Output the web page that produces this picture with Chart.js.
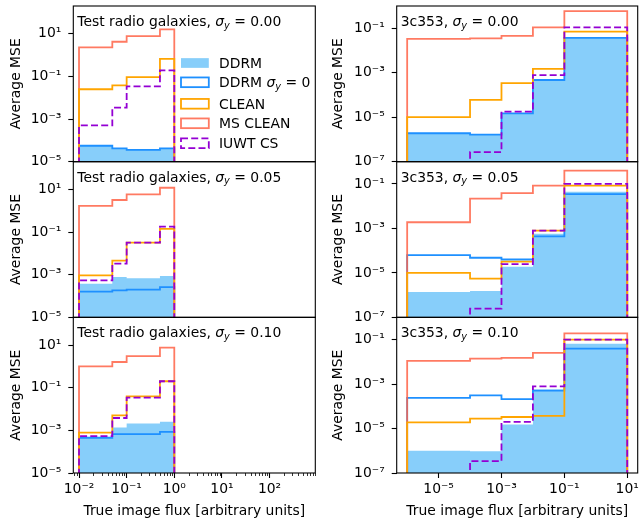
<!DOCTYPE html>
<html><head><meta charset="utf-8">
<script src="https://cdn.jsdelivr.net/npm/chart.js@4.4.1/dist/chart.umd.min.js"></script>
<style>
html,body{margin:0;padding:0;background:#fff;}
#wrap{position:relative;width:640px;height:520px;overflow:hidden;background:#fff;}
#wrap canvas{position:absolute;}
</style></head><body><div id="wrap"></div>
<script>
// ---------------- data ----------------
const galaxyEdges = [0.01, 0.05, 0.1, 0.5, 1];
const sourceEdges = [1e-6, 1e-4, 1e-3, 1e-2, 1e-1, 10];
const noiseLevels = ['0.00', '0.05', '0.10'];
const panelNames = ['Test radio galaxies', '3c353'];
const seriesNames = ['DDRM', 'DDRM σy = 0', 'CLEAN', 'MS CLEAN', 'IUWT CS'];

// tick values
const galaxyXTicks = [1e-2, 1e-1, 1, 10, 100];
const sourceXTicks = [1e-5, 1e-3, 1e-1, 10];
const galaxyYTicks = [1e-5, 1e-3, 1e-1, 10];
const sourceYTicks = [1e-7, 1e-5, 1e-3, 1e-1];

// Test radio galaxies (rows: sigma_y = 0.00, 0.05, 0.10)
const galDDRM = [
  [5.6e-5, 4.2e-5, 3.6e-5, 4.2e-5],
  [3.8e-4, 7.9e-4, 6.8e-4, 8.7e-4],
  [4.6e-4, 1.35e-3, 2.1e-3, 2.5e-3]
];
const galDDRM0 = [
  [5.6e-5, 4.2e-5, 3.6e-5, 4.2e-5],
  [1.6e-4, 1.85e-4, 2.0e-4, 2.6e-4],
  [4.5e-4, 6.7e-4, 6.7e-4, 8.5e-4]
];
const galCLEAN = [
  [0.025, 0.038, 0.093, 0.66],
  [9.3e-4, 4.6e-3, 0.032, 0.14],
  [7.8e-4, 5.0e-3, 0.039, 0.20]
];
const galMSCLEAN = [
  [2.3, 4.2, 7.8, 16],
  [1.7, 3.2, 5.8, 12],
  [1.0, 1.6, 3.0, 7.5]
];
const galIUWT = [
  [5.0e-4, 3.4e-3, 0.034, 0.19],
  [5.4e-4, 3.3e-3, 0.032, 0.18],
  [5.4e-4, 3.8e-3, 0.034, 0.20]
];

// 3c353 (rows: sigma_y = 0.00, 0.05, 0.10)
const srcDDRM = [
  [1.9e-6, 1.65e-6, 1.5e-5, 4.7e-4, 0.037],
  [1.4e-6, 1.55e-6, 1.9e-5, 5.8e-4, 0.044],
  [1.0e-6, 9.5e-7, 1.5e-5, 5.7e-4, 0.064]
];
const srcDDRM0 = [
  [1.9e-6, 1.65e-6, 1.5e-5, 4.7e-4, 0.037],
  [6.3e-5, 4.8e-5, 4.0e-5, 4.4e-4, 0.035],
  [2.4e-4, 3.1e-4, 2.1e-4, 5.0e-4, 0.039]
];
const srcCLEAN = [
  [1.0e-5, 6.0e-5, 3.4e-4, 1.5e-3, 0.071],
  [1.0e-5, 5.5e-6, 3.2e-5, 7.9e-4, 0.084],
  [1.9e-5, 2.8e-5, 3.3e-5, 3.7e-5, 0.10]
];
const srcMSCLEAN = [
  [0.033, 0.035, 0.045, 0.11, 0.59],
  [1.9e-3, 0.022, 0.039, 0.084, 0.40],
  [0.011, 0.014, 0.015, 0.025, 0.19]
];
const srcIUWT = [
  [1e-9, 2.7e-7, 1.8e-5, 7.8e-4, 0.11],
  [1e-9, 2.5e-7, 2.5e-5, 7.9e-4, 0.10],
  [1e-9, 3.4e-7, 2.0e-5, 7.8e-4, 0.10]
];

// ---------------- styling / layout ----------------
const FONT = 'DejaVu Sans';
const FS = 13.9;
const COLORS = { ddrm: '#87CEFA', ddrm0: '#1E90FF', clean: '#FFA500', ms: 'rgba(255,99,71,0.85)', iuwt: '#9400D3' };
const LW = 1.8;
const DASH = [7, 3.2];

Chart.defaults.font.family = FONT;
Chart.defaults.font.size = FS;
Chart.defaults.color = '#000';

const rowTops = [6, 161.7, 317.3];
const rowH = 155.7;
const canvasTops = [0, 155, 311];
const canvasHeights = [168, 169, 209];
const cols = [
  { left: 0, width: 320, plotL: 73.3, plotR: 315.3, yTitleOff: 7.6,
    xMin: Math.pow(10, -2.12), xMax: Math.pow(10, 2.96), yMin: 1e-5, yMax: Math.pow(10, 2.3) },
  { left: 320, width: 320, plotL: 76.7, plotR: 317.7, yTitleOff: 10.2,
    xMin: Math.pow(10, -6.333), xMax: Math.pow(10, 1.333), yMin: 1e-7, yMax: 1 }
];

const SUP = { '-': '⁻', '0': '⁰', '1': '¹', '2': '²', '3': '³', '4': '⁴', '5': '⁵', '6': '⁶', '7': '⁷', '8': '⁸', '9': '⁹' };
function powLabel(v) {
  const e = Math.round(Math.log10(v));
  return '10' + String(e).split('').map(ch => SUP[ch]).join('');
}

function histData(edges, vals, base) {
  const pts = [{ x: edges[0], y: base }];
  vals.forEach((v, i) => pts.push({ x: edges[i], y: v }));
  pts.push({ x: edges[edges.length - 1], y: vals[vals.length - 1] });
  pts.push({ x: edges[edges.length - 1], y: base });
  return pts;
}

function drawMath(ctx, parts, x, y, size) {
  ctx.textBaseline = 'alphabetic';
  ctx.textAlign = 'left';
  ctx.fillStyle = '#000';
  for (const p of parts) {
    const s = p.sub ? size * 0.7 : size;
    ctx.font = (p.italic ? 'italic ' : '') + s + 'px "' + FONT + '"';
    const yy = p.sub ? y + size * 0.2 : y;
    ctx.fillText(p.t, x, yy);
    x += ctx.measureText(p.t).width;
  }
}
function sigmaParts(prefix, value) {
  return [{ t: prefix }, { t: 'σ', italic: true }, { t: 'y', italic: true, sub: true }, { t: ' = ' + value }];
}

const legendItems = [
  { cy: 63, kind: 'fill', colour: COLORS.ddrm, parts: [{ t: 'DDRM' }] },
  { cy: 82.3, kind: 'box', colour: COLORS.ddrm0, parts: [{ t: 'DDRM ' }, { t: 'σ', italic: true }, { t: 'y', italic: true, sub: true }, { t: ' = 0' }] },
  { cy: 103.8, kind: 'box', colour: COLORS.clean, parts: [{ t: 'CLEAN' }] },
  { cy: 123.3, kind: 'box', colour: COLORS.ms, parts: [{ t: 'MS CLEAN' }] },
  { cy: 143.3, kind: 'dash', colour: COLORS.iuwt, parts: [{ t: 'IUWT CS' }] }
];

const decorPlugin = {
  id: 'decor',
  afterDraw(chart) {
    const info = chart.canvas._decor;
    const { ctx, chartArea: a } = chart;
    ctx.save();
    if (info.minorX) {
      const xs = chart.scales.x;
      ctx.strokeStyle = '#000';
      ctx.lineWidth = 0.8;
      for (let d = -4; d <= 3; d++) {
        for (let k = 2; k <= 9; k++) {
          const v = k * Math.pow(10, d);
          if (v < xs.min || v > xs.max) continue;
          const px = Math.round(xs.getPixelForValue(v)) + 0.5;
          ctx.beginPath();
          ctx.moveTo(px, a.bottom);
          ctx.lineTo(px, a.bottom + 3);
          ctx.stroke();
        }
      }
    }
    ctx.strokeStyle = '#000';
    ctx.lineWidth = 1.1;
    ctx.strokeRect(a.left, a.top, a.right - a.left, a.bottom - a.top);
    drawMath(ctx, info.label, a.left + 4, a.top + 20, FS);
    if (info.legend) {
      const lx = 181, hw = 27.8, hh = 9.7;
      for (const it of legendItems) {
        const cy = it.cy;
        if (it.kind === 'fill') {
          ctx.fillStyle = it.colour;
          ctx.fillRect(lx, cy - hh / 2, hw, hh);
        } else {
          ctx.setLineDash(it.kind === 'dash' ? DASH : []);
          ctx.strokeStyle = it.colour;
          ctx.lineWidth = LW;
          ctx.strokeRect(lx, cy - hh / 2, hw, hh);
          ctx.setLineDash([]);
        }
        drawMath(ctx, it.parts, lx + hw + 10.2, cy + 5, FS);
      }
    }
    ctx.restore();
  }
};

const wrap = document.getElementById('wrap');

function makePanel(r, c) {
  const col = cols[c];
  const isGal = c === 0;
  const edges = isGal ? galaxyEdges : sourceEdges;
  const base = col.yMin / 1000;
  const S = isGal
    ? { ddrm: galDDRM, ddrm0: galDDRM0, clean: galCLEAN, ms: galMSCLEAN, iuwt: galIUWT }
    : { ddrm: srcDDRM, ddrm0: srcDDRM0, clean: srcCLEAN, ms: srcMSCLEAN, iuwt: srcIUWT };
  const xTicks = isGal ? galaxyXTicks : sourceXTicks;
  const yTicks = isGal ? galaxyYTicks : sourceYTicks;
  const bottom = r === 2;

  const cv = document.createElement('canvas');
  const cw = col.width, ch = canvasHeights[r];
  cv.width = cw; cv.height = ch;
  cv.style.left = col.left + 'px';
  cv.style.top = canvasTops[r] + 'px';
  cv.style.width = cw + 'px'; cv.style.height = ch + 'px';
  cv._decor = {
    label: sigmaParts(panelNames[c] + ', ', noiseLevels[r]),
    minorX: bottom && isGal,
    legend: r === 0 && c === 0
  };
  wrap.appendChild(cv);

  const padTop = rowTops[r] - canvasTops[r];
  const xH = ch - padTop - rowH;
  const line = (label, data, color, order, extra) => Object.assign({
    label, data, borderColor: color, borderWidth: LW, stepped: true, fill: false,
    pointRadius: 0, pointHoverRadius: 0, tension: 0, order,
    borderCapStyle: 'butt', borderJoinStyle: 'miter'
  }, extra || {});

  const datasets = [
    line(seriesNames[4], histData(edges, S.iuwt[r], base), COLORS.iuwt, 0, { borderDash: DASH }),
    line(seriesNames[2], histData(edges, S.clean[r], base), COLORS.clean, 1),
    line(seriesNames[3], histData(edges, S.ms[r], base), COLORS.ms, 2),
    line(seriesNames[1], histData(edges, S.ddrm0[r], base), COLORS.ddrm0, 3),
    line(seriesNames[0], histData(edges, S.ddrm[r], base), 'rgba(0,0,0,0)', 4,
      { borderWidth: 0, backgroundColor: COLORS.ddrm, fill: 'start' })
  ];

  const zeroPad = (s) => { s.paddingTop = 0; s.paddingBottom = 0; s.paddingLeft = 0; s.paddingRight = 0; };

  new Chart(cv, {
    type: 'line',
    data: { datasets },
    options: {
      animation: false,
      responsive: false,
      devicePixelRatio: 1,
      events: [],
      layout: { padding: { top: padTop, left: 0, right: cw - col.plotR, bottom: 0 } },
      plugins: { legend: { display: false }, tooltip: { enabled: false } },
      scales: {
        x: {
          type: 'logarithmic',
          min: col.xMin, max: col.xMax,
          afterBuildTicks: (s) => { s.ticks = xTicks.map(v => ({ value: v })); },
          afterFit: (s) => { s.height = xH; zeroPad(s); },
          ticks: { display: bottom, autoSkip: false, maxRotation: 0, minRotation: 0, padding: 3,
            callback: (v) => powLabel(v), color: '#000', font: { size: FS } },
          grid: { display: true, drawOnChartArea: false, drawTicks: bottom, tickLength: 5, tickColor: '#000', tickWidth: 1.1 },
          border: { display: false },
          title: { display: bottom, text: 'True image flux [arbitrary units]', color: '#000',
            font: { size: FS }, padding: { top: 0, bottom: 0.7 } }
        },
        y: {
          type: 'logarithmic',
          min: col.yMin, max: col.yMax,
          afterBuildTicks: (s) => { s.ticks = yTicks.map(v => ({ value: v })); },
          afterFit: (s) => { s.width = col.plotL; zeroPad(s); },
          ticks: { autoSkip: false, padding: 7, callback: (v) => powLabel(v), color: '#000', font: { size: FS } },
          grid: { display: true, drawOnChartArea: false, drawTicks: true, tickLength: 5, tickColor: '#000', tickWidth: 1.1 },
          border: { display: false },
          title: { display: true, text: 'Average MSE', color: '#000', font: { size: FS },
            padding: { top: col.yTitleOff, bottom: 0 } }
        }
      }
    },
    plugins: [decorPlugin]
  });
}

for (let r = 0; r < 3; r++) for (let c = 0; c < 2; c++) makePanel(r, c);
</script>
</body></html>
